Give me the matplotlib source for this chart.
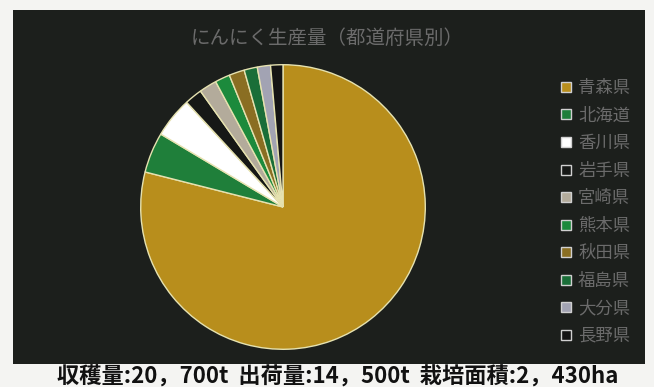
import matplotlib.pyplot as plt
from matplotlib.patches import Rectangle
from matplotlib.lines import Line2D

plt.rcParams['font.family'] = ['Noto Sans CJK JP', 'DejaVu Sans']

# share of production (%)
prefectures = ['青森県', '北海道', '香川県', '岩手県', '宮崎県',
               '熊本県', '秋田県', '福島県', '大分県', '長野県']
shares = [79.0, 4.6, 4.6, 2.0, 2.0, 1.7, 1.75, 1.5, 1.5, 1.4]
colors = ['#b88e1c', '#1f7f3a', '#ffffff', '#161816', '#b3ab9b',
          '#1c8a3c', '#8a6e22', '#1a6e38', '#a2a3b3', '#141414']

title = 'にんにく生産量（都道府県別）'
footer = '収穫量:20，700t  出荷量:14，500t  栽培面積:2，430ha'

W, H = 654, 387
fig = plt.figure(figsize=(W / 100, H / 100), dpi=100)
fig.patch.set_facecolor('#f4f4f2')

# dark chart panel
fig.patches.append(Rectangle((13 / W, 1 - 364 / H), (645 - 13) / W, (364 - 10) / H,
                             transform=fig.transFigure, facecolor='#1c1f1c',
                             edgecolor='none', zorder=-5))

ax = fig.add_axes([(283 - 143) / W, (387 - 207 - 143) / H, 286 / W, 286 / H])
ax.set_zorder(2)
ax.pie(shares, colors=colors, startangle=90, counterclock=False,
       wedgeprops=dict(edgecolor='#e6e2b0', linewidth=1.0))
ax.set_xlim(-1.005, 1.005)
ax.set_ylim(-1.005, 1.005)
ax.set_aspect('equal')
ax.axis('off')

fig.text(327 / W, 1 - 38 / H, title, ha='center', va='center',
         fontsize=14, color='#6b6b6b', zorder=3)

handles = [Line2D([], [], marker='s', linestyle='none', markersize=7,
                  markerfacecolor=c, markeredgecolor='#d0d0d0', markeredgewidth=1)
           for c in colors]
leg = fig.legend(handles, prefectures, loc='upper left',
                 bbox_to_anchor=(552 / W, 1 - 72 / H), frameon=False,
                 fontsize=12.5, labelcolor='#6b6b6b', handlelength=0.8,
                 handletextpad=0.3, labelspacing=0.55, borderaxespad=0)
leg.set_zorder(3)

fig.text(338 / W, 1 - 377 / H, footer, ha='center', va='center',
         fontsize=16, fontweight='bold', color='#111111', zorder=3)

fig.savefig('out.png', dpi=100, facecolor=fig.get_facecolor())
